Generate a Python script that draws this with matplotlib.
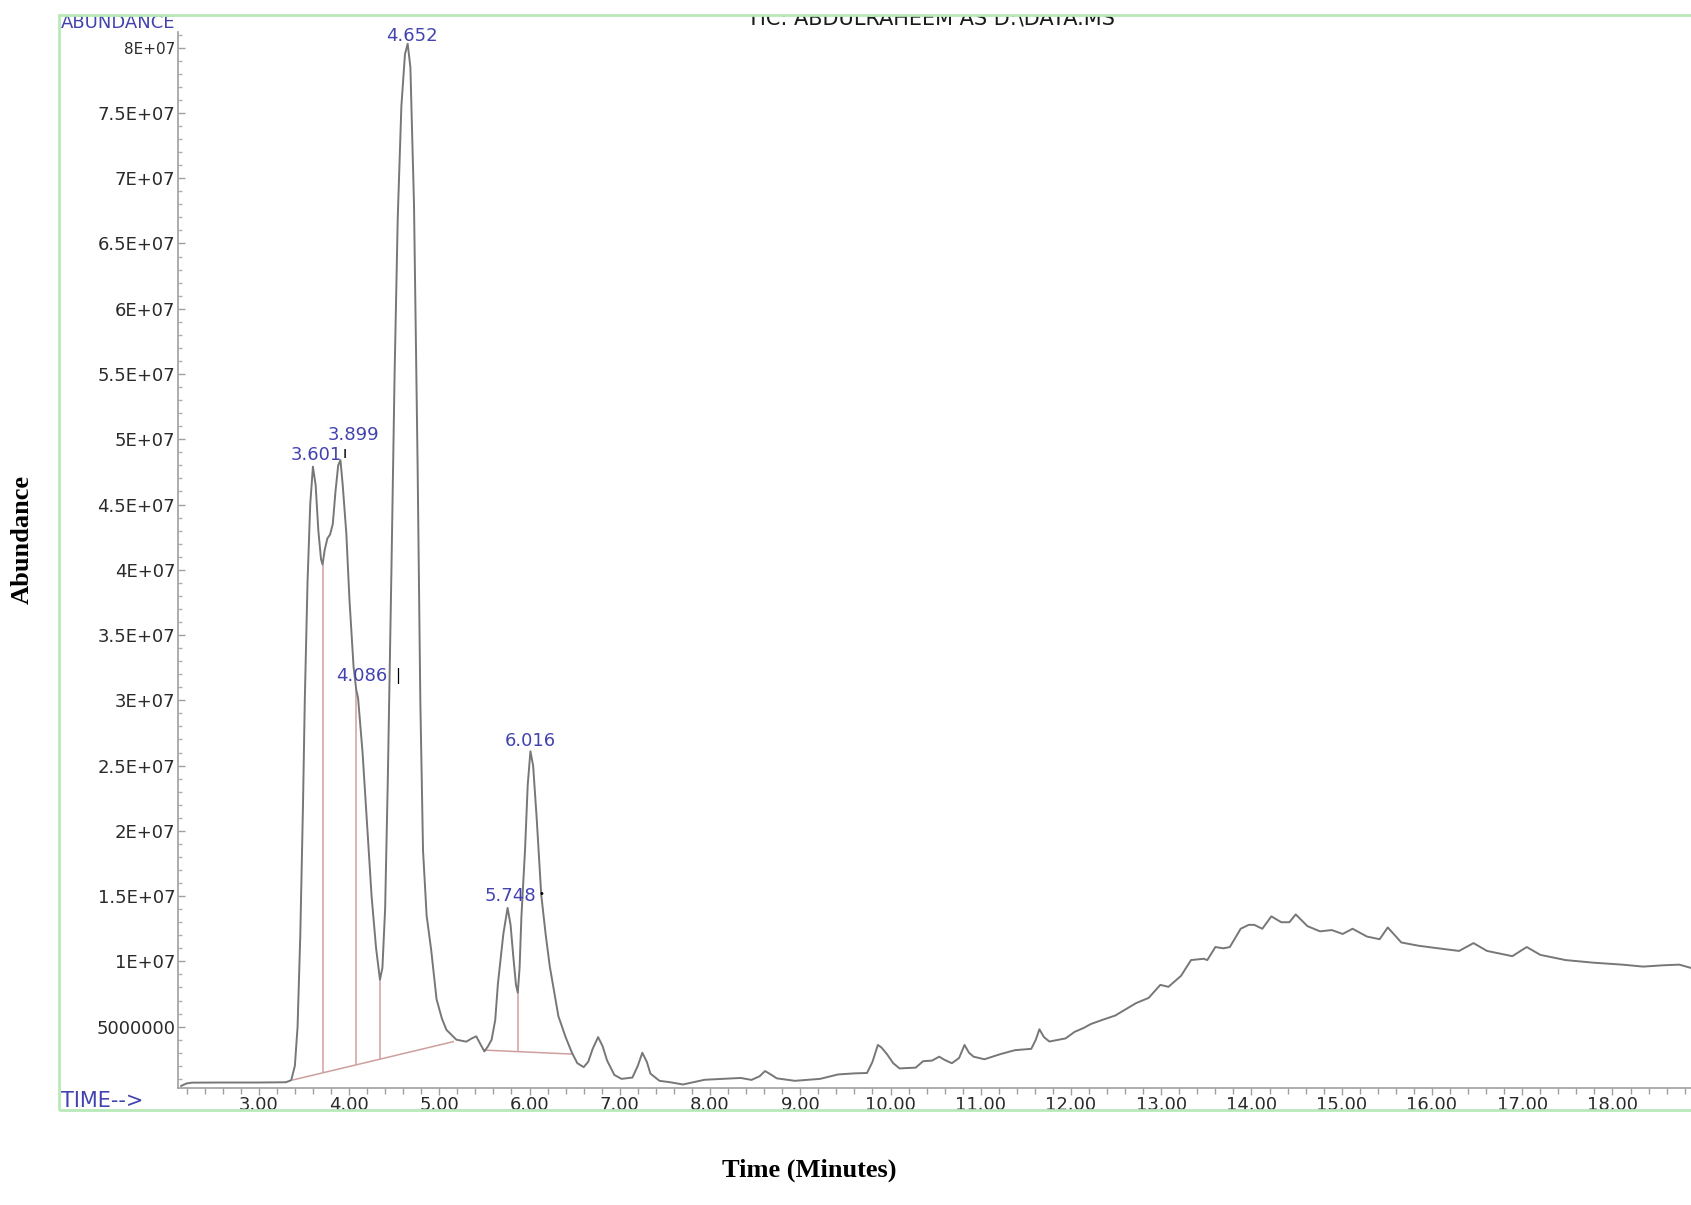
import numpy as np
import matplotlib
matplotlib.use("Agg")
import matplotlib.pyplot as plt
from matplotlib.patches import Rectangle
from matplotlib.ticker import MultipleLocator

# ---------------- data ----------------
time_min = [2.14, 2.20, 2.26, 2.60, 3.00, 3.30, 3.36, 3.40, 3.43, 3.46, 3.49, 3.51, 3.54, 3.57,
            3.60, 3.63, 3.66, 3.69, 3.707, 3.73, 3.76, 3.79, 3.82, 3.85, 3.88, 3.905, 3.93,
            3.97, 4.005, 4.05, 4.08, 4.10, 4.15, 4.20, 4.25, 4.30, 4.343, 4.37, 4.40, 4.43,
            4.47, 4.505, 4.54, 4.58, 4.62, 4.65, 4.68, 4.72, 4.76, 4.79, 4.82, 4.86, 4.91,
            4.97, 5.03, 5.08, 5.19, 5.30, 5.36, 5.41, 5.46, 5.50, 5.54, 5.58, 5.62, 5.65,
            5.71, 5.757, 5.79, 5.82, 5.85, 5.87, 5.89, 5.91, 5.95, 5.98, 6.01, 6.04, 6.08,
            6.13, 6.18, 6.225, 6.32, 6.40, 6.47, 6.53, 6.60, 6.65, 6.70, 6.76, 6.81, 6.86,
            6.94, 7.02, 7.14, 7.20, 7.25, 7.30, 7.34, 7.44, 7.55, 7.70, 7.85, 7.94, 8.14,
            8.34, 8.46, 8.55, 8.61, 8.67, 8.74, 8.94, 9.22, 9.42, 9.60, 9.74, 9.80, 9.86,
            9.90, 9.96, 10.03, 10.10, 10.28, 10.36, 10.46, 10.54, 10.60, 10.68, 10.76,
            10.82, 10.87, 10.92, 11.04, 11.22, 11.38, 11.56, 11.61, 11.65, 11.70, 11.76,
            11.94, 12.04, 12.14, 12.22, 12.34, 12.49, 12.60, 12.72, 12.86, 12.99, 13.08,
            13.22, 13.33, 13.47, 13.51, 13.60, 13.69, 13.76, 13.88, 13.97, 14.03, 14.12,
            14.22, 14.33, 14.42, 14.49, 14.62, 14.76, 14.89, 15.01, 15.12, 15.28, 15.42,
            15.51, 15.66, 15.85, 16.07, 16.30, 16.46, 16.61, 16.89, 17.05, 17.20, 17.48,
            17.79, 18.11, 18.34, 18.56, 18.74, 18.87]
abundance = [0.46e6, 0.65e6, 0.71e6, 0.72e6, 0.72e6, 0.74e6, 0.90e6, 2.0e6, 5.0e6, 12.0e6,
             22.0e6, 30.0e6, 39.0e6, 45.0e6, 47.9e6, 46.5e6, 43.0e6, 40.8e6, 40.4e6, 41.5e6,
             42.4e6, 42.7e6, 43.5e6, 46.0e6, 48.0e6, 48.4e6, 46.5e6, 42.8e6, 37.7e6, 32.6e6,
             30.8e6, 30.2e6, 26.0e6, 20.5e6, 15.0e6, 11.0e6, 8.6e6, 9.5e6, 14.0e6, 24.0e6,
             40.0e6, 55.0e6, 67.0e6, 75.5e6, 79.5e6, 80.3e6, 78.5e6, 68.0e6, 48.0e6, 30.0e6,
             18.5e6, 13.5e6, 10.9e6, 7.1e6, 5.6e6, 4.75e6, 4.0e6, 3.85e6, 4.1e6, 4.26e6,
             3.6e6, 3.1e6, 3.5e6, 4.0e6, 5.5e6, 8.3e6, 12.1e6, 14.1e6, 12.8e6, 10.4e6,
             8.2e6, 7.6e6, 9.5e6, 13.4e6, 18.5e6, 23.5e6, 26.1e6, 25.0e6, 20.9e6, 15.1e6,
             12.0e6, 9.6e6, 5.8e6, 4.2e6, 3.0e6, 2.2e6, 1.9e6, 2.3e6, 3.3e6, 4.2e6, 3.5e6,
             2.4e6, 1.3e6, 1.0e6, 1.1e6, 2.0e6, 3.0e6, 2.3e6, 1.4e6, 0.85e6, 0.75e6, 0.57e6,
             0.80e6, 0.93e6, 1.0e6, 1.07e6, 0.92e6, 1.2e6, 1.6e6, 1.35e6, 1.04e6, 0.85e6,
             1.0e6, 1.34e6, 1.42e6, 1.45e6, 2.3e6, 3.6e6, 3.4e6, 2.9e6, 2.2e6, 1.8e6, 1.86e6,
             2.35e6, 2.4e6, 2.7e6, 2.45e6, 2.2e6, 2.6e6, 3.6e6, 3.0e6, 2.7e6, 2.5e6, 2.9e6,
             3.2e6, 3.3e6, 4.0e6, 4.8e6, 4.2e6, 3.86e6, 4.1e6, 4.6e6, 4.9e6, 5.2e6, 5.5e6,
             5.85e6, 6.3e6, 6.8e6, 7.2e6, 8.2e6, 8.05e6, 8.9e6, 10.1e6, 10.2e6, 10.1e6,
             11.1e6, 11.0e6, 11.1e6, 12.5e6, 12.8e6, 12.8e6, 12.5e6, 13.45e6, 13.0e6, 13.0e6,
             13.6e6, 12.7e6, 12.3e6, 12.4e6, 12.1e6, 12.5e6, 11.9e6, 11.7e6, 12.6e6, 11.45e6,
             11.2e6, 11.0e6, 10.8e6, 11.4e6, 10.8e6, 10.4e6, 11.1e6, 10.5e6, 10.1e6, 9.9e6,
             9.75e6, 9.6e6, 9.7e6, 9.75e6, 9.5e6]

peak_labels = ["3.601", "3.899", "4.086", "4.652", "5.748", "6.016"]

baseline1_time = [3.38, 5.155]
baseline1_abund = [0.92e6, 3.85e6]
baseline2_time = [5.505, 6.465]
baseline2_abund = [3.2e6, 2.9e6]
drop1_time = [3.707, 4.077, 4.343]
drop2_time = [5.876]

x_ticks = [3, 4, 5, 6, 7, 8, 9, 10, 11, 12, 13, 14, 15, 16, 17, 18]
x_tick_labels = ["3.00", "4.00", "5.00", "6.00", "7.00", "8.00", "9.00", "10.00",
                 "11.00", "12.00", "13.00", "14.00", "15.00", "16.00", "17.00", "18.00"]
y_ticks = [5e6, 1e7, 1.5e7, 2e7, 2.5e7, 3e7, 3.5e7, 4e7, 4.5e7, 5e7, 5.5e7, 6e7,
           6.5e7, 7e7, 7.5e7, 8e7]
y_tick_labels = ["5000000", "1E+07", "1.5E+07", "2E+07", "2.5E+07", "3E+07", "3.5E+07",
                 "4E+07", "4.5E+07", "5E+07", "5.5E+07", "6E+07", "6.5E+07", "7E+07",
                 "7.5E+07", "8E+07"]

# ---------------- layout / style ----------------
W, H = 1691, 1205
fig = plt.figure(figsize=(W / 100, H / 100), dpi=100)
fig.patch.set_facecolor("white")

ax_left, ax_right, ax_top, ax_bottom = 178, 1691, 32, 1088
ax = fig.add_axes([ax_left / W, 1 - ax_bottom / H, (ax_right - ax_left) / W,
                   (ax_bottom - ax_top) / H])
ax.set_facecolor("none")

trace_color = "#777777"
base_color = "#cf9f9f"
blue = "#4343b0"

# integration baselines and drop lines
ax.plot(baseline1_time, baseline1_abund, color=base_color, lw=1.1, zorder=2)
ax.plot(baseline2_time, baseline2_abund, color=base_color, lw=1.1, zorder=2)
d1_bot = np.interp(drop1_time, baseline1_time, baseline1_abund)
d2_bot = np.interp(drop2_time, baseline2_time, baseline2_abund)
d1_top = np.interp(drop1_time, time_min, abundance)
d2_top = np.interp(drop2_time, time_min, abundance)
ax.vlines(drop1_time, d1_bot, d1_top, color=base_color, lw=1.1, zorder=2)
ax.vlines(drop2_time, d2_bot, d2_top, color=base_color, lw=1.1, zorder=2)

ax.plot(time_min, abundance, color=trace_color, lw=1.4, zorder=3)

ax.set_xlim(2.105, 18.87)
ax.set_ylim(0.3e6, 81.2e6)

for s in ["top", "right"]:
    ax.spines[s].set_visible(False)
for s in ["left", "bottom"]:
    ax.spines[s].set_color("#a0a0a0")
    ax.spines[s].set_linewidth(1.2)

ax.set_xticks(x_ticks, labels=x_tick_labels)
ax.xaxis.set_minor_locator(MultipleLocator(0.2))
ax.set_yticks(y_ticks, labels=y_tick_labels)
ax.yaxis.set_minor_locator(MultipleLocator(1e6))
ax.tick_params(axis="x", which="major", direction="out", length=5, width=1,
               color="#a0a0a0", pad=0.5, labelsize=13, labelcolor="#2a2a2a")
ax.tick_params(axis="x", which="minor", direction="out", length=4, width=1,
               color="#a0a0a0")
ax.tick_params(axis="y", which="major", direction="in", length=5, width=1,
               color="#a0a0a0", pad=2, labelsize=13, labelcolor="#2a2a2a")
ax.tick_params(axis="y", which="minor", direction="in", length=3, width=1,
               color="#b0b0b0")
ax.get_yticklabels()[-1].set_fontsize(11)

# peak labels (positions in data coords, placed next to peaks)
label_pos = {"3.601": (3.633, 48.8e6), "3.899": (4.05, 50.3e6),
             "4.086": (4.135, 31.85e6), "4.652": (4.70, 80.9e6),
             "5.748": (5.784, 15.0e6), "6.016": (6.01, 26.9e6)}
for lab in peak_labels:
    x, y = label_pos[lab]
    ax.text(x, y, lab, color=blue, fontsize=13, ha="center", va="center",
            zorder=5, clip_on=False)
# small black marker glyphs that follow some labels
ax.text(3.955, 48.9e6, "ı", color="black", fontsize=11, ha="center", va="center")
ax.text(4.54, 31.85e6, "|", color="black", fontsize=11, ha="center", va="center")
ax.text(6.13, 15.2e6, "•", color="black", fontsize=7, ha="center", va="center")

# instrument-style labels
fig.text(61 / W, 1 - 23 / H, "ABUNDANCE", color=blue, fontsize=13,
         ha="left", va="center")
fig.text(61 / W, 1 - 1101 / H, "TIME-->", color=blue, fontsize=15,
         ha="left", va="center")

# partially hidden header text
fig.text(931 / W, 1 - 24 / H, "TIC: ABDULRAHEEM AS D:\\DATA.MS", color="#1a1a1a",
         fontsize=15, ha="center", va="baseline", zorder=1)
fig.patches.append(Rectangle((0, 1 - 15 / H), 1, 15 / H, transform=fig.transFigure,
                             facecolor="white", edgecolor="none", zorder=5))

# light green frame
fig.patches.append(Rectangle((59 / W, 1 - 1110 / H), 1.05, (1110 - 15) / H,
                             transform=fig.transFigure, fill=False,
                             edgecolor="#b9e8b9", lw=2, zorder=6))

# outer axis titles
fig.text(22 / W, 1 - 539 / H, "Abundance", rotation=90, fontsize=19,
         fontweight="bold", family="Liberation Serif", ha="center", va="center")
fig.text(809 / W, 1 - 1170 / H, "Time (Minutes)", fontsize=19,
         fontweight="bold", family="Liberation Serif", ha="center", va="center")

fig.savefig("out.png", dpi=100, facecolor="white")
